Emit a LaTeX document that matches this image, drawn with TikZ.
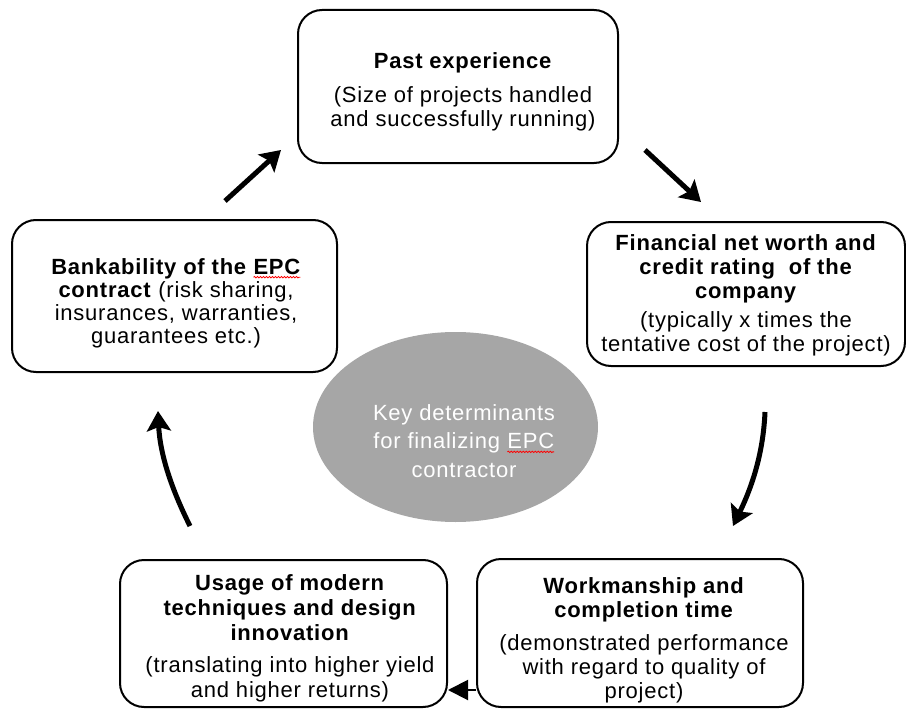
\documentclass[tikz,border=0pt]{standalone}
\usepackage{fontspec}
\setmainfont{Liberation Sans}[LetterSpace=3.5]
\usetikzlibrary{arrows.meta,shapes.geometric,decorations.pathmorphing}
\definecolor{ellgray}{HTML}{A6A6A6}
\newcommand\redwave[1]{\tikz[baseline=(sp.base)]{\node[inner sep=0pt,outer sep=0pt] (sp) {#1};
  \draw[red, line width=0.8pt, decorate, decoration={snake,amplitude=0.7pt,segment length=3pt}]
    ([yshift=-3pt]sp.base west) -- ([yshift=-3pt]sp.base east);}}
\begin{document}
\begin{tikzpicture}[x=1pt,y=-1pt,
  box/.style={draw, line width=2pt, rounded corners=24pt, inner sep=0pt},
  txt/.style={align=center, inner sep=0pt, font=\fontsize{22}{#1}\selectfont},
  txt/.default=24,
  bigarrow/.style={line width=5pt, -{Stealth[length=20pt,width=24pt,inset=4pt]}},
]
\useasboundingbox (0,0) rectangle (906,709);

% boxes
\node[box, minimum width=320pt, minimum height=153pt] (past) at (458,86.5) {};
\node[box, minimum width=325pt, minimum height=152pt] (bank) at (174.5,296) {};
\node[box, minimum width=318pt, minimum height=144pt] (fin) at (746,294) {};
\node[box, minimum width=327pt, minimum height=147pt] (usage) at (283.5,633.5) {};
\node[box, minimum width=326pt, minimum height=148pt] (work) at (640,633) {};

% texts
\node[txt] (pasttxt) at (463,92) {\textbf{Past experience}\\[10pt](Size of projects handled\\and successfully running)};
\node[txt=23] (banktxt) at (176,303) {\textbf{Bankability of the \redwave{EPC}}\\\textbf{contract} (risk sharing,\\insurances, warranties,\\guarantees etc.)};
\node[txt] (fintxt) at (746,295) {\textbf{Financial net worth and}\\\textbf{credit rating\ \ of the}\\\textbf{company}\\[5pt](typically x times the\\tentative cost of the project)};
\node[txt=25] (usagetxt) at (290,638) {\textbf{Usage of modern}\\\textbf{techniques and design}\\\textbf{innovation}\\[7pt](translating into higher yield\\and higher returns)};
\node[txt] (worktxt) at (644,640) {\textbf{Workmanship and}\\\textbf{completion time}\\[9pt](demonstrated performance\\with regard to quality of\\project)};

% centre ellipse
\node[ellipse, fill=ellgray, minimum width=285pt, minimum height=190pt, inner sep=0pt] (key) at (455.5,427) {};
\node[txt=28.5, text=white] (keytxt) at (464,441) {Key determinants\\for finalizing \redwave{EPC}\\contractor};

% arrow ends
\coordinate (a1s) at (225,201);
\coordinate (a1e) at (281,150);
\coordinate (a2s) at (645,150);
\coordinate (a2e) at (701,202);
\coordinate (a3s) at (765,412);
\coordinate (a3e) at (733,526);
\coordinate (a4s) at (190,526);
\coordinate (a4e) at (158,411);

\draw[bigarrow] (a1s) -- (a1e);
\draw[bigarrow] (a2s) -- (a2e);
\draw[bigarrow] (a3s) .. controls (763,460) and (748,495) .. (a3e);
\draw[bigarrow] (a4s) .. controls (172,490) and (160,455) .. (a4e);
\draw[line width=2pt, -{Triangle[length=20pt,width=20pt]}] (work.west |- 0,690) -- (usage.east |- 0,690);
\end{tikzpicture}
\end{document}
